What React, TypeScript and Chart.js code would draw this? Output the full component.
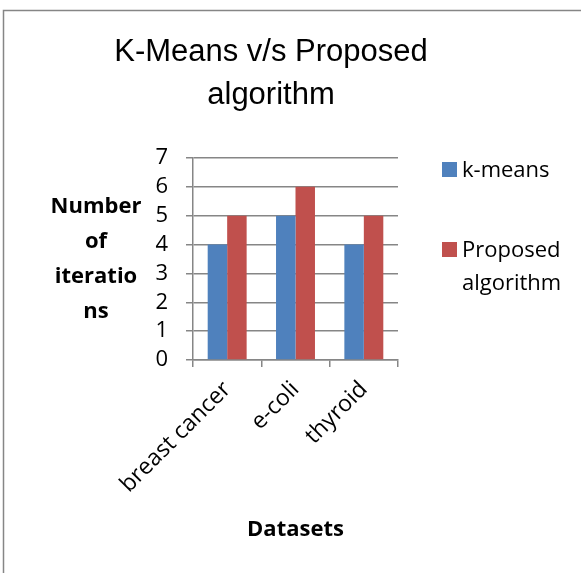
import React, { useEffect, useRef } from "react";
import { Chart, registerables } from "chart.js";

Chart.register(...registerables);

const categories = ["breast cancer", "e-coli", "thyroid"];
const kMeansValues = [4, 5, 4];
const proposedValues = [5, 6, 5];
const seriesNames = ["k-means", "Proposed algorithm"];
const seriesColors = ["#4F81BD", "#C0504D"];
const titleLines = ["K-Means v/s Proposed", "algorithm"];
const yTitleLines = ["Number", "of", "iteratio", "ns"];
const xTitle = "Datasets";
const yMin = 0;
const yMax = 7;
const yStep = 1;

const BODY_FONT = "'Open Sans', Lato, sans-serif";
const TITLE_FONT = "'Liberation Sans', Arial, sans-serif";
const AXIS_GRAY = "#868686";

const decorPlugin = {
  id: "decor",
  beforeDraw(chart: any) {
    const ctx = chart.ctx;
    ctx.save();
    ctx.fillStyle = "#ffffff";
    ctx.fillRect(0, 0, chart.width, chart.height);
    ctx.strokeStyle = AXIS_GRAY;
    ctx.lineWidth = 1.5;
    ctx.strokeRect(3.5, 10.5, chart.width + 20, chart.height + 20);
    ctx.restore();
  },
  afterDraw(chart: any) {
    const ctx = chart.ctx;
    const area = chart.chartArea;
    ctx.save();
    ctx.fillStyle = "#000000";
    // Title
    ctx.textAlign = "center";
    ctx.textBaseline = "alphabetic";
    ctx.font = `31px ${TITLE_FONT}`;
    titleLines.forEach((t, i) => ctx.fillText(t, 271, 61 + i * 43));
    // Y axis title (horizontal, wrapped)
    ctx.font = `bold 22px ${BODY_FONT}`;
    ctx.textBaseline = "middle";
    const yMid = (area.top + area.bottom) / 2;
    const lh = 35;
    yTitleLines.forEach((t, i) =>
      ctx.fillText(t, 96, yMid + (i - (yTitleLines.length - 1) / 2) * lh)
    );
    // X axis title
    ctx.fillText(xTitle, (area.left + area.right) / 2, 530);
    // Legend
    ctx.font = `22px ${BODY_FONT}`;
    ctx.textAlign = "left";
    ctx.textBaseline = "alphabetic";
    const legendX = 442;
    const legendTops = [162, 242];
    chart.data.datasets.forEach((ds: any, i: number) => {
      const top = legendTops[i];
      ctx.fillStyle = ds.backgroundColor;
      ctx.fillRect(legendX, top, 15, 15);
      ctx.fillStyle = "#000000";
      const words = String(ds.label).split(" ");
      words.forEach((w: string, j: number) =>
        ctx.fillText(w, legendX + 20, top + 15 + j * 33)
      );
    });
    ctx.restore();
  },
};

export default function App() {
  const canvasRef = useRef<HTMLCanvasElement | null>(null);

  useEffect(() => {
    if (!canvasRef.current) return;
    const chart = new Chart(canvasRef.current, {
      type: "bar",
      data: {
        labels: categories,
        datasets: [
          {
            label: seriesNames[0],
            data: kMeansValues,
            backgroundColor: seriesColors[0],
            borderWidth: 0,
          },
          {
            label: seriesNames[1],
            data: proposedValues,
            backgroundColor: seriesColors[1],
            borderWidth: 0,
          },
        ],
      },
      options: {
        animation: false,
        responsive: false,
        maintainAspectRatio: false,
        devicePixelRatio: 1,
        layout: { padding: { left: 153, right: 183, top: 158, bottom: 53 } },
        datasets: {
          bar: { categoryPercentage: 0.57, barPercentage: 1 },
        },
        plugins: {
          legend: { display: false },
          title: { display: false },
          tooltip: { enabled: false },
        },
        scales: {
          x: {
            afterFit: (s: any) => {
              s.height = 160;
            },
            grid: {
              offset: true,
              drawOnChartArea: false,
              drawTicks: true,
              tickLength: 7,
              color: AXIS_GRAY,
              lineWidth: 1.5,
            },
            border: { color: AXIS_GRAY, width: 1.5 },
            ticks: {
              minRotation: 45,
              maxRotation: 45,
              autoSkip: false,
              padding: 9,
              color: "#000000",
              font: { family: BODY_FONT, size: 23 },
            },
          },
          y: {
            min: yMin,
            max: yMax,
            afterFit: (s: any) => {
              s.width = 40;
            },
            grid: {
              drawTicks: true,
              tickLength: 7,
              color: AXIS_GRAY,
              lineWidth: 1.5,
            },
            border: { color: AXIS_GRAY, width: 1.5 },
            ticks: {
              stepSize: yStep,
              autoSkip: false,
              padding: 18,
              color: "#000000",
              font: { family: BODY_FONT, size: 22 },
            },
          },
        },
      },
      plugins: [decorPlugin],
    });
    return () => chart.destroy();
  }, []);

  return (
    <div style={{ position: "fixed", left: 0, top: 0, width: 581, height: 573, background: "#fff" }}>
      <canvas ref={canvasRef} width={581} height={573} style={{ width: 581, height: 573 }} />
    </div>
  );
}
